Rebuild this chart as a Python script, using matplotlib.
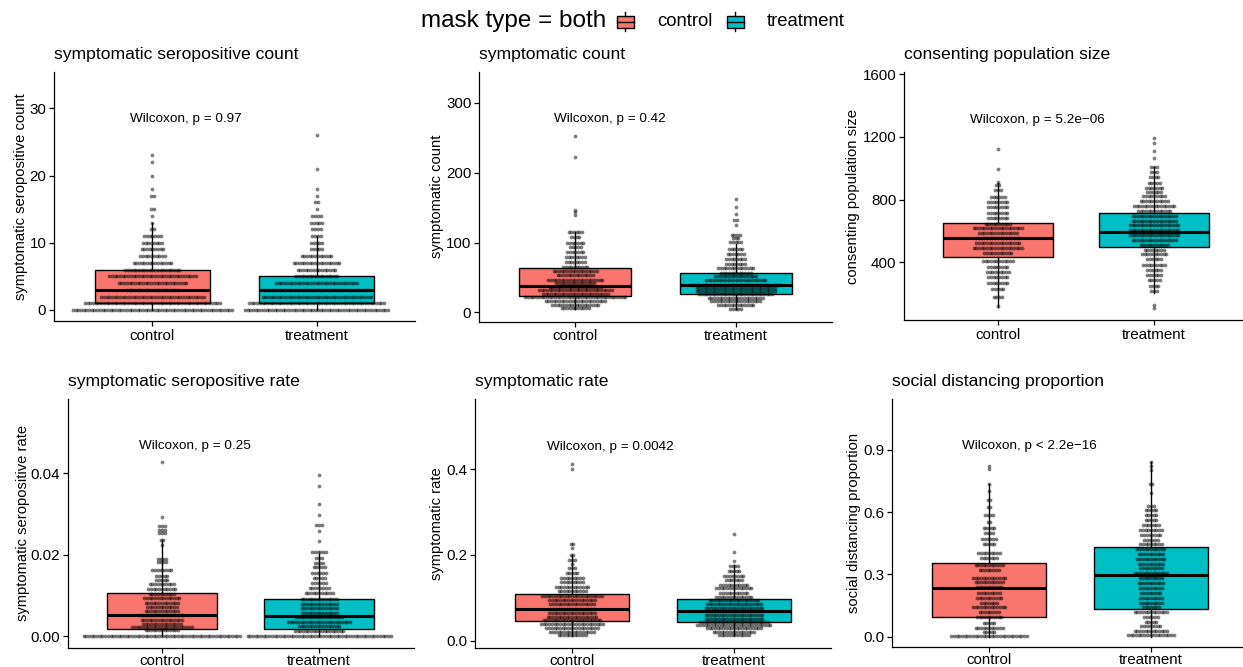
import numpy as np
import matplotlib
matplotlib.use('Agg')
import matplotlib.pyplot as plt
from matplotlib.patches import Rectangle

plt.rcParams['font.family'] = ['Liberation Sans', 'DejaVu Sans']

groups = ['control', 'treatment']
fill_colors = ['#F8766D', '#00BFC4']

# symptomatic seropositive count (value: number of villages in the row)
ssc_ctrl_vals = [0, 1, 2, 3, 4, 5, 6, 7, 8, 9, 10, 11, 12, 13, 14, 15, 17, 18, 20, 22, 23]
ssc_ctrl_counts = [60, 51, 39, 20, 26, 33, 21, 15, 10, 9, 8, 7, 2, 1, 1, 2, 2, 1, 1, 1, 1]
ssc_trt_vals = [0, 1, 2, 3, 4, 5, 6, 7, 8, 9, 10, 11, 12, 13, 14, 15, 16, 17, 18, 21, 26]
ssc_trt_counts = [54, 51, 41, 40, 31, 16, 15, 18, 12, 5, 5, 4, 4, 5, 4, 1, 2, 1, 1, 1, 1]
ssc_box = [[0, 1, 3, 6, 13], [0, 1, 3, 5, 11]]

# symptomatic count
sc_ctrl_vals = [6, 11, 16, 22, 27, 32, 37, 42, 47, 53, 59, 65, 72, 79, 86, 93, 100, 108, 115,
                140, 143, 146, 222, 253]
sc_ctrl_counts = [11, 18, 23, 38, 25, 28, 20, 15, 21, 14, 17, 10, 8, 8, 7, 5, 7, 4, 6, 1, 1, 1, 1, 1]
sc_trt_vals = [5.5, 10.5, 16, 21, 26, 30.5, 35, 40, 47, 52, 56, 63, 69, 76, 83, 90.5, 101.5, 106,
               111, 125, 132, 140.5, 151.5, 162]
sc_trt_counts = [5, 14, 19, 21, 28, 30, 30, 34, 23, 16, 12, 14, 8, 8, 7, 6, 5, 3, 4, 1, 2, 1, 1, 1]
sc_box = [[5, 22.9, 38.3, 62.9, 115], [5, 26.2, 40, 55.8, 98]]

# consenting population size
cp_ctrl_vals = [121, 180, 229, 266, 304, 340, 372, 410, 461, 489, 525, 553, 585, 617, 647, 681,
                717, 751, 783, 819, 862, 894, 915, 996, 1122]
cp_ctrl_counts = [1, 4, 5, 8, 8, 9, 8, 12, 11, 19, 17, 17, 15, 19, 10, 8, 8, 8, 8, 6, 3, 2, 1, 1, 1]
cp_trt_vals = [109, 130, 219, 251, 285, 317, 353, 385, 421, 453, 480, 512, 544, 576, 608, 640, 661,
               693, 725, 757, 789, 821, 849, 877, 905, 947, 979, 1011, 1064, 1113, 1160, 1192]
cp_trt_counts = [1, 1, 3, 4, 5, 6, 6, 9, 6, 10, 8, 11, 17, 19, 19, 19, 17, 17, 13, 16, 11, 9, 6, 7,
                 5, 4, 3, 3, 1, 1, 1, 1]
cp_box = [[116, 436, 553, 653, 909], [202, 496, 596, 713, 1011]]

# symptomatic seropositive rate
ssr_ctrl_vals = [0, 0.0015, 0.0023, 0.0031, 0.0041, 0.0052, 0.0061, 0.0072, 0.0082, 0.0094, 0.0103,
                 0.0115, 0.0128, 0.0139, 0.0149, 0.0162, 0.0183, 0.0190, 0.0225, 0.0237, 0.0254,
                 0.0262, 0.0270, 0.0293, 0.0427]
ssr_ctrl_counts = [59, 13, 23, 15, 16, 17, 13, 12, 13, 14, 10, 11, 10, 5, 5, 8, 4, 4, 1, 2, 3, 3, 3, 1, 1]
ssr_trt_vals = [0, 0.0012, 0.0025, 0.0036, 0.0048, 0.0058, 0.0070, 0.0080, 0.0091, 0.0107, 0.0119,
                0.0130, 0.0143, 0.0156, 0.0170, 0.0181, 0.0192, 0.0206, 0.0233, 0.0258, 0.0272,
                0.0299, 0.0326, 0.0370, 0.0395]
ssr_trt_counts = [54, 19, 16, 24, 18, 14, 14, 14, 14, 11, 8, 6, 5, 6, 5, 4, 3, 6, 1, 1, 3, 1, 1, 1, 1]
ssr_box = [[0, 0.00188, 0.00531, 0.01053, 0.02376], [0, 0.00171, 0.0049, 0.00914, 0.0201]]

# symptomatic rate
sr_ctrl_vals = [0.0127, 0.0212, 0.0305, 0.0398, 0.0483, 0.056, 0.066, 0.075, 0.085, 0.095, 0.1044,
                0.116, 0.126, 0.138, 0.147, 0.1586, 0.1687, 0.178, 0.188, 0.1989, 0.2166, 0.2267,
                0.401, 0.412]
sr_ctrl_counts = [11, 17, 20, 24, 22, 19, 18, 17, 17, 18, 23, 11, 13, 9, 9, 5, 3, 1, 3, 2, 1, 2, 1, 1]
sr_trt_vals = [0.013, 0.021, 0.029, 0.037, 0.044, 0.052, 0.060, 0.069, 0.077, 0.087, 0.095, 0.103,
               0.112, 0.123, 0.131, 0.141, 0.152, 0.162, 0.174, 0.187, 0.207, 0.25]
sr_trt_counts = [12, 16, 21, 28, 26, 22, 22, 19, 22, 21, 19, 14, 11, 14, 11, 7, 8, 5, 4, 1, 1, 1]
sr_box = [[0.0116, 0.0464, 0.0751, 0.110, 0.1996], [0.0132, 0.0441, 0.0689, 0.0983, 0.1764]]

# social distancing proportion
sd_ctrl_vals = [0.004, 0.024, 0.040, 0.067, 0.093, 0.118, 0.142, 0.164, 0.185, 0.209, 0.241, 0.265,
                0.281, 0.321, 0.345, 0.377, 0.401, 0.445, 0.469, 0.498, 0.525, 0.554, 0.586, 0.626,
                0.658, 0.703, 0.738, 0.807, 0.823]
sd_ctrl_counts = [29, 5, 11, 5, 10, 8, 13, 7, 10, 9, 10, 11, 13, 8, 11, 7, 9, 5, 6, 4, 5, 2, 4, 2, 2,
                  1, 1, 1, 1]
sd_trt_vals = [0.006, 0.027, 0.051, 0.072, 0.096, 0.120, 0.144, 0.164, 0.188, 0.212, 0.236, 0.260,
               0.284, 0.308, 0.332, 0.351, 0.372, 0.396, 0.420, 0.444, 0.468, 0.492, 0.513, 0.537,
               0.564, 0.588, 0.609, 0.631, 0.692, 0.737, 0.804, 0.823, 0.841]
sd_trt_counts = [18, 13, 8, 5, 6, 13, 7, 9, 9, 8, 9, 10, 9, 13, 9, 10, 11, 10, 11, 9, 6, 8, 9, 7, 5,
                 5, 5, 3, 1, 2, 1, 1, 1]
sd_box = [[0, 0.093, 0.2326, 0.355, 0.7366], [0, 0.1348, 0.2985, 0.430, 0.841]]

titles = ['symptomatic seropositive count', 'symptomatic count', 'consenting population size',
          'symptomatic seropositive rate', 'symptomatic rate', 'social distancing proportion']
p_labels = ['Wilcoxon, p = 0.97', 'Wilcoxon, p = 0.42', 'Wilcoxon, p = 5.2e\u221206',
            'Wilcoxon, p = 0.25', 'Wilcoxon, p = 0.0042', 'Wilcoxon, p < 2.2e\u221216']

W, H = 1243, 667
fig = plt.figure(figsize=(W / 100, H / 100), dpi=100)

# axes boxes in pixels: left, top, right, bottom
boxes_px = [(54, 72, 415, 321), (479, 72, 832, 321.5), (904, 72, 1248, 320),
            (67.5, 399.3, 413.5, 647.5), (475, 399.3, 831, 647.5), (892, 399.3, 1248, 646.8)]
ylims = [(-1.64, 35.4), (-12.9, 343.9), (31.3, 1614.7),
         (-0.00277, 0.0582), (-0.0153, 0.5624), (-0.0496, 1.1444)]
yticks = [[0, 10, 20, 30], [0, 100, 200, 300], [400, 800, 1200, 1600],
          [0, 0.02, 0.04], [0, 0.2, 0.4], [0, 0.3, 0.6, 0.9]]
yfmt = ['{:.0f}', '{:.0f}', '{:.0f}', '{:.2f}', '{:.1f}', '{:.1f}']
ylabel_off = [33, 42, 51, 45, 38, 38]
plab_xy = [(0.863, 28.4), (0.865, 276.7), (0.823, 1309), (0.853, 0.0468), (0.842, 0.4524),
           (0.831, 0.9196)]

panel_data = [
    (ssc_ctrl_vals, ssc_ctrl_counts, ssc_trt_vals, ssc_trt_counts, ssc_box),
    (sc_ctrl_vals, sc_ctrl_counts, sc_trt_vals, sc_trt_counts, sc_box),
    (cp_ctrl_vals, cp_ctrl_counts, cp_trt_vals, cp_trt_counts, cp_box),
    (ssr_ctrl_vals, ssr_ctrl_counts, ssr_trt_vals, ssr_trt_counts, ssr_box),
    (sr_ctrl_vals, sr_ctrl_counts, sr_trt_vals, sr_trt_counts, sr_box),
    (sd_ctrl_vals, sd_ctrl_counts, sd_trt_vals, sd_trt_counts, sd_box),
]

dot_pitch_px = 2.7

for i, (cv, cc, tv, tc, bx) in enumerate(panel_data):
    l, t, r, b = boxes_px[i]
    ax = fig.add_axes([l / W, 1 - b / H, (r - l) / W, (b - t) / H])
    ax.set_xlim(0.4, 2.6)
    ax.set_ylim(*ylims[i])

    stats = []
    for g, s in zip(groups, bx):
        stats.append(dict(label=g, whislo=s[0], q1=s[1], med=s[2], q3=s[3], whishi=s[4], fliers=[]))
    bp = ax.bxp(stats, positions=[1, 2], widths=0.7, patch_artist=True, showcaps=False,
                boxprops=dict(linewidth=1.0, edgecolor='black'),
                medianprops=dict(color='black', linewidth=2.2),
                whiskerprops=dict(color='black', linewidth=1.0), zorder=1)
    for patch, col in zip(bp['boxes'], fill_colors):
        patch.set_facecolor(col)

    dx = dot_pitch_px * 2.2 / (r - l)
    for pos, vals, counts in [(1, cv, cc), (2, tv, tc)]:
        xs, ys = [], []
        for v, n in zip(vals, counts):
            offs = (np.arange(n) - (n - 1) / 2) * dx
            xs.extend(pos + offs)
            ys.extend([v] * n)
        ax.scatter(xs, ys, s=7.5, color='black', alpha=0.5, linewidths=0, zorder=3)

    ax.set_xticks([1, 2])
    ax.set_xticklabels(groups)
    ax.set_yticks(yticks[i])
    ax.set_yticklabels([yfmt[i].format(v) for v in yticks[i]])
    for sp in ['top', 'right']:
        ax.spines[sp].set_visible(False)
    for sp in ['left', 'bottom']:
        ax.spines[sp].set_linewidth(0.9)
    ax.tick_params(axis='both', length=3.5, width=0.9, labelsize=10.9, colors='black', pad=2)
    if i >= 3:
        ax.tick_params(axis='x', pad=1.2)
    ax.set_ylabel(titles[i], fontsize=10.6, va='center')
    ax.yaxis.set_label_coords(-ylabel_off[i] / (r - l), 0.5)
    ax.annotate(titles[i], xy=(0, 1), xycoords='axes fraction', xytext=(0, 12.5),
                textcoords='offset points', fontsize=12.6, va='center', ha='left')
    ax.text(plab_xy[i][0], plab_xy[i][1], p_labels[i], fontsize=9.7, ha='left', va='center')

# legend on top
lg = fig.add_axes([0, 0, 1, 1])
lg.set_xlim(0, W)
lg.set_ylim(H, 0)
lg.axis('off')
lg.text(421.5, 21, 'mask type = both', fontsize=17.5, va='center', ha='left')
for x0, col, lab in [(617, fill_colors[0], 'control'), (727, fill_colors[1], 'treatment')]:
    lg.add_patch(Rectangle((x0, 15.5), 17, 12, facecolor=col, edgecolor='black', linewidth=1.0))
    lg.plot([x0, x0 + 17], [21.5, 21.5], color='black', linewidth=1.0)
    lg.plot([x0 + 8.5, x0 + 8.5], [12, 15.5], color='black', linewidth=1.0)
    lg.plot([x0 + 8.5, x0 + 8.5], [27.5, 31], color='black', linewidth=1.0)
    lg.text(x0 + 40, 21, lab, fontsize=13.3, va='center', ha='left')

fig.savefig('out.png', dpi=100)
